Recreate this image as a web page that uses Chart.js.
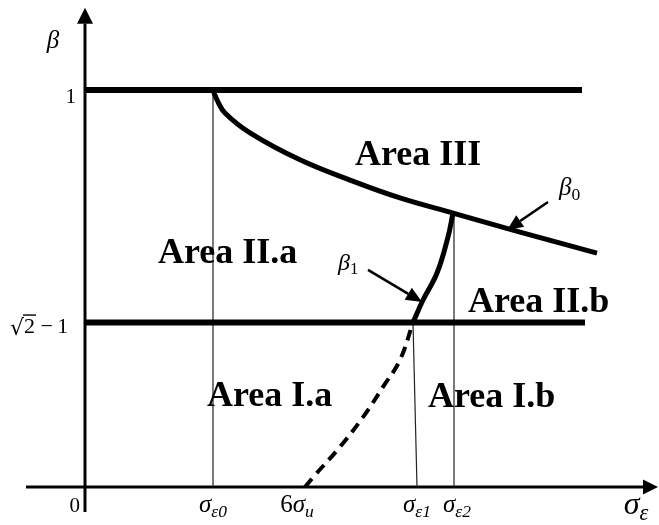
<!DOCTYPE html>
<html>
<head>
<meta charset="utf-8">
<script src="https://cdn.jsdelivr.net/npm/chart.js@4"></script>
<style>
  html, body { margin: 0; padding: 0; background: #fff; }
  #wrap { width: 659px; height: 525px; }
</style>
</head>
<body>
<div id="wrap"><canvas id="c"></canvas></div>
<script>
// Boundary levels of β
const BETA_ONE = 1;
const BETA_LOW = Math.SQRT2 - 1;

// Characteristic stresses on the σε axis: σε0, 6σu, σε1, σε2
const sigmaTicks = [1.28, 2.20, 3.30, 3.69];

// Upper boundary β0(σε)
const beta0X = [1.28, 1.32, 1.40, 1.65, 2.15, 2.65, 3.15, 3.68, 4.35, 5.12];
const beta0Y = [1.0, 0.975, 0.942, 0.892, 0.824, 0.773, 0.728, 0.690, 0.642, 0.589];

// Boundary β1(σε): solid part above √2−1, dashed part below
const beta1SolidX = [3.28, 3.38, 3.52, 3.63, 3.68];
const beta1SolidY = [BETA_LOW, 0.471, 0.539, 0.630, 0.690];
const beta1DashX = [2.20, 2.30, 2.55, 2.78, 2.98, 3.15, 3.28];
const beta1DashY = [0, 0.030, 0.101, 0.176, 0.252, 0.320, BETA_LOW];

// Extent of the two horizontal levels
const levelOneEnd = 4.97;
const levelLowEnd = 5.00;

// Region names
const areaNames = ['Area III', 'Area II.a', 'Area II.b', 'Area I.a', 'Area I.b'];
const areaAnchors = [[2.70, 0.811], [0.73, 0.564], [3.83, 0.441], [1.22, 0.204], [3.43, 0.202]];

const pts = (xs, ys) => xs.map((x, i) => ({ x, y: ys[i] }));

const thin = { borderColor: '#222', borderWidth: 1.2, pointRadius: 0, showLine: true, fill: false };

const datasets = [
  { data: [{ x: 0, y: BETA_ONE }, { x: levelOneEnd, y: BETA_ONE }], borderColor: '#000', borderWidth: 6, pointRadius: 0, showLine: true },
  { data: [{ x: 0, y: BETA_LOW }, { x: levelLowEnd, y: BETA_LOW }], borderColor: '#000', borderWidth: 6, pointRadius: 0, showLine: true },
  { data: pts(beta0X, beta0Y), borderColor: '#000', borderWidth: 5, pointRadius: 0, showLine: true, tension: 0.4 },
  { data: pts(beta1SolidX, beta1SolidY), borderColor: '#000', borderWidth: 5, pointRadius: 0, showLine: true, tension: 0.4 },
  { data: pts(beta1DashX, beta1DashY), borderColor: '#000', borderWidth: 4, borderDash: [11, 7], pointRadius: 0, showLine: true, tension: 0.4 },
  // guide lines from the boundaries down to the σε axis
  Object.assign({ data: [{ x: sigmaTicks[0], y: BETA_ONE }, { x: sigmaTicks[0], y: 0 }] }, thin),
  Object.assign({ data: [{ x: beta1SolidX[0], y: BETA_LOW }, { x: sigmaTicks[2] + 0.02, y: 0 }] }, thin),
  Object.assign({ data: [{ x: sigmaTicks[3], y: beta0Y[7] }, { x: sigmaTicks[3], y: 0 }] }, thin)
];

const MATH_FONT = '"Liberation Serif"';

// Draw a run of math text pieces: {t, it (italic), sub (subscript)}
function mathWidth(ctx, parts, size) {
  let w = 0;
  for (const p of parts) {
    const s = p.sub ? size * 0.7 : size;
    ctx.font = (p.it ? 'italic ' : '') + s + 'px ' + MATH_FONT;
    w += ctx.measureText(p.t).width;
  }
  return w;
}
function drawMath(ctx, parts, x, y, size, align) {
  const w = mathWidth(ctx, parts, size);
  let cx = align === 'center' ? x - w / 2 : align === 'right' ? x - w : x;
  ctx.textBaseline = 'alphabetic';
  ctx.textAlign = 'left';
  ctx.fillStyle = '#000';
  for (const p of parts) {
    const s = p.sub ? size * 0.7 : size;
    ctx.font = (p.it ? 'italic ' : '') + s + 'px ' + MATH_FONT;
    ctx.fillText(p.t, cx, p.sub ? y + size * 0.18 : y);
    cx += ctx.measureText(p.t).width;
  }
}

function arrow(ctx, x1, y1, x2, y2, lw, head, half) {
  const a = Math.atan2(y2 - y1, x2 - x1);
  const bx = x2 - head * Math.cos(a), by = y2 - head * Math.sin(a);
  ctx.strokeStyle = '#000';
  ctx.lineWidth = lw;
  ctx.beginPath(); ctx.moveTo(x1, y1); ctx.lineTo(bx, by); ctx.stroke();
  ctx.fillStyle = '#000';
  ctx.beginPath();
  ctx.moveTo(x2, y2);
  ctx.lineTo(bx + half * Math.sin(a), by - half * Math.cos(a));
  ctx.lineTo(bx - half * Math.sin(a), by + half * Math.cos(a));
  ctx.closePath(); ctx.fill();
}

const axesPlugin = {
  id: 'axesPlugin',
  beforeDatasetsDraw(chart) {
    const { ctx, scales: { x, y } } = chart;
    const x0 = x.getPixelForValue(0), y0 = y.getPixelForValue(0);
    ctx.save();
    // σε axis with arrow
    arrow(ctx, x.getPixelForValue(-0.59), y0, x.getPixelForValue(5.73), y0, 3, 15, 7.5);
    // β axis with arrow
    arrow(ctx, x0, y.getPixelForValue(-0.063), x0, y.getPixelForValue(1.207), 3, 16, 8);
    ctx.restore();
  },
  afterDraw(chart) {
    const { ctx, scales: { x, y } } = chart;
    const px = v => x.getPixelForValue(v), py = v => y.getPixelForValue(v);
    ctx.save();

    // axis names
    drawMath(ctx, [{ t: 'β', it: true }], 53, 48, 25, 'center');
    drawMath(ctx, [{ t: 'σ', it: true }, { t: 'ε', it: true, sub: true }], 636, 514, 32, 'center');

    // β tick labels
    drawMath(ctx, [{ t: '1' }], px(0) - 9, py(BETA_ONE) + 13, 21, 'right');
    // √2 − 1 with a vinculum over the 2
    {
      const size = 22, base = py(BETA_LOW) + 10;
      ctx.fillStyle = '#000';
      ctx.strokeStyle = '#000';
      ctx.textAlign = 'left';
      ctx.textBaseline = 'alphabetic';
      const xr = 10;
      ctx.font = size + 'px "DejaVu Serif"';
      ctx.fillText('√', xr, base + 2);
      const wr = ctx.measureText('√').width;
      ctx.font = size + 'px ' + MATH_FONT;
      const w2 = ctx.measureText('2').width;
      ctx.fillText('2', xr + wr, base);
      ctx.lineWidth = 1.4;
      ctx.beginPath(); ctx.moveTo(xr + wr - 1, base - 17.5); ctx.lineTo(xr + wr + w2 + 1, base - 17.5); ctx.stroke();
      ctx.fillText('\u2009\u2212\u20091', xr + wr + w2 + 1, base);
    }

    // σε tick labels
    const tb = py(0) + 25;
    drawMath(ctx, [{ t: '0' }], px(0) - 5, tb, 21, 'right');
    drawMath(ctx, [{ t: 'σ', it: true }, { t: 'ε0', it: true, sub: true }], px(sigmaTicks[0]), tb, 25, 'center');
    drawMath(ctx, [{ t: '6' }, { t: 'σ', it: true }, { t: 'u', it: true, sub: true }], px(sigmaTicks[1]) - 8, tb, 25, 'center');
    drawMath(ctx, [{ t: 'σ', it: true }, { t: 'ε1', it: true, sub: true }], px(sigmaTicks[2]) + 2, tb, 25, 'center');
    drawMath(ctx, [{ t: 'σ', it: true }, { t: 'ε2', it: true, sub: true }], px(sigmaTicks[3]) + 3, tb, 25, 'center');

    // curve names with pointer arrows
    drawMath(ctx, [{ t: 'β', it: true }, { t: '0', sub: true }], 559, 195, 25, 'left');
    arrow(ctx, px(4.63), py(0.718), px(4.22), py(0.647), 2.5, 16, 7);
    drawMath(ctx, [{ t: 'β', it: true }, { t: '1', sub: true }], 338, 270, 24, 'left');
    arrow(ctx, px(2.83), py(0.547), px(3.37), py(0.466), 2.5, 16, 7);

    // region names
    ctx.font = 'bold 36px "Liberation Serif"';
    ctx.fillStyle = '#000';
    ctx.textAlign = 'left';
    ctx.textBaseline = 'alphabetic';
    areaNames.forEach((n, i) => ctx.fillText(n, px(areaAnchors[i][0]), py(areaAnchors[i][1])));
    ctx.restore();
  }
};

new Chart(document.getElementById('c'), {
  type: 'scatter',
  data: { datasets },
  options: {
    responsive: true,
    maintainAspectRatio: false,
    animation: false,
    devicePixelRatio: 1,
    layout: { padding: { left: 25, right: 1, top: 3, bottom: 10 } },
    plugins: { legend: { display: false }, tooltip: { enabled: false } },
    elements: { line: { borderCapStyle: 'butt', borderJoinStyle: 'round' } },
    scales: {
      x: { type: 'linear', display: false, min: -0.60, max: 5.73 },
      y: { type: 'linear', display: false, min: -0.0705, max: 1.2191 }
    }
  },
  plugins: [axesPlugin]
});
</script>
</body>
</html>
